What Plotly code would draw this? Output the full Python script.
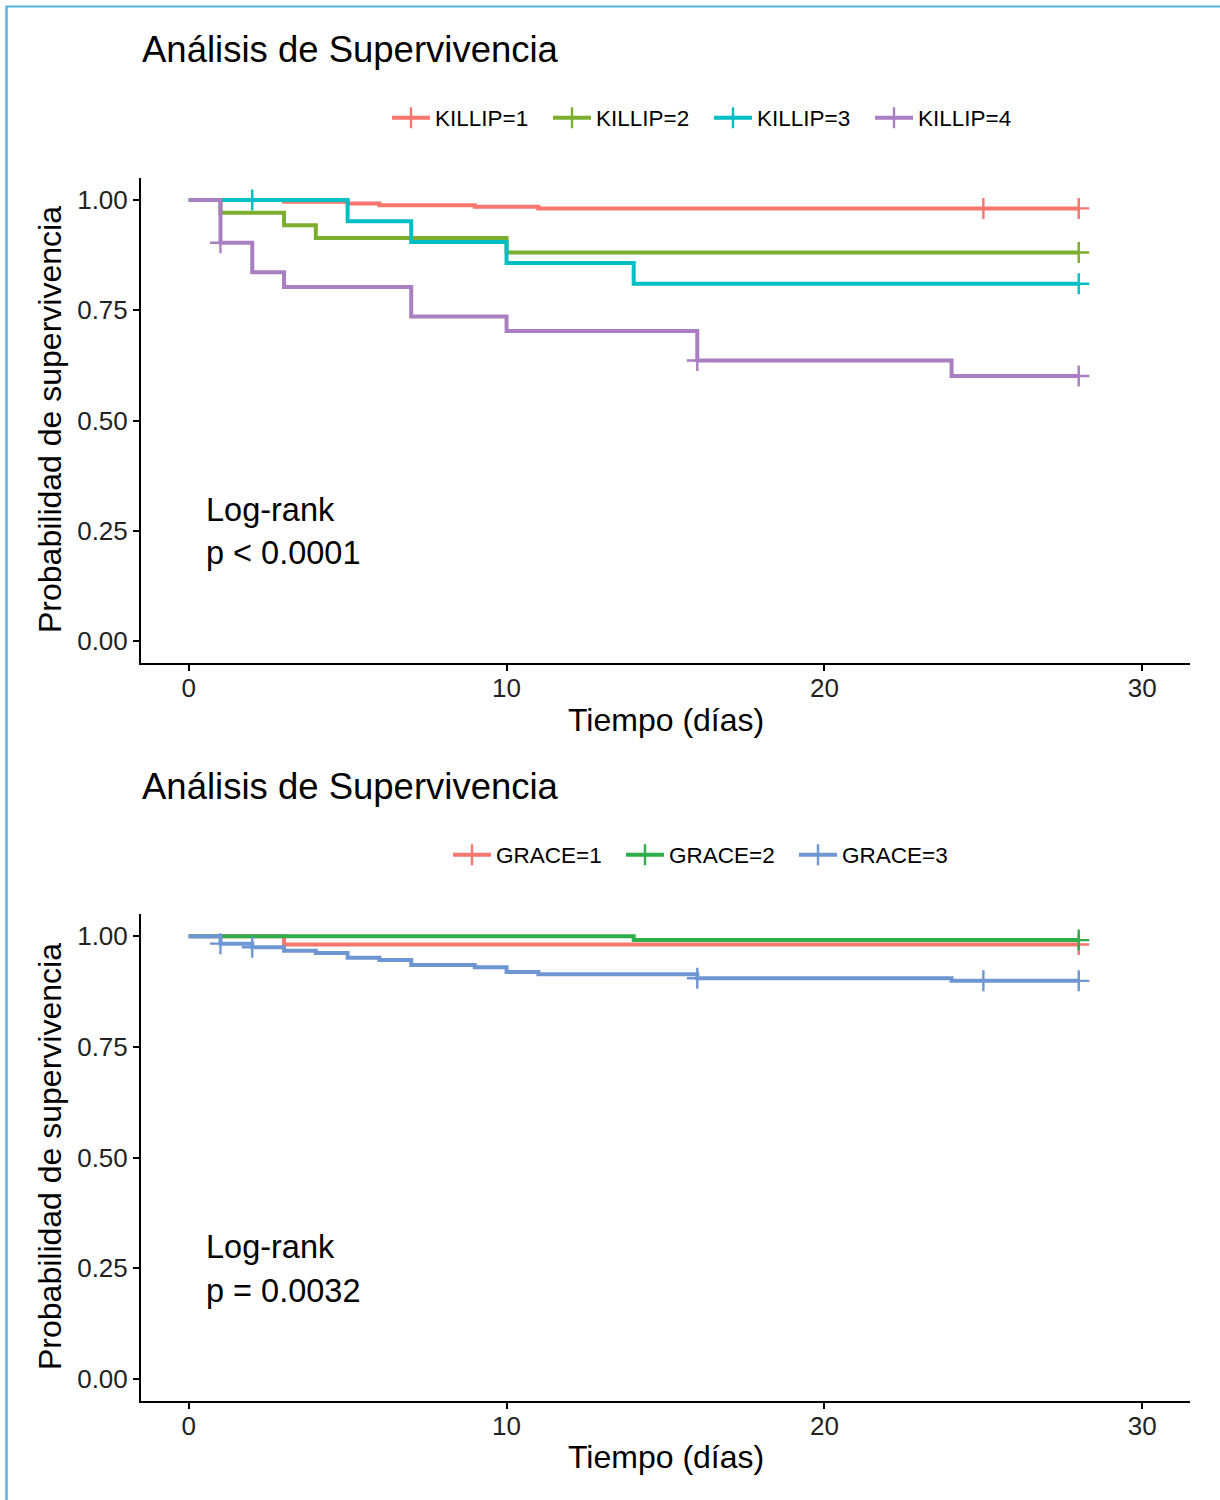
import plotly.graph_objects as go

# ---------------- data ----------------
FOLLOW_UP = 28

KILLIP_NAMES = ["KILLIP=1", "KILLIP=2", "KILLIP=3", "KILLIP=4"]
KILLIP_COLORS = ["#F8766D", "#7CAE2E", "#00BFC4", "#A97FC2"]
k1_times = [0, 3, 5, 6, 9, 11]
k1_surv = [1.0, 0.996, 0.992, 0.988, 0.985, 0.981]
k1_censor = [25, 28]
k2_times = [0, 1, 3, 4, 10]
k2_surv = [1.0, 0.971, 0.943, 0.914, 0.881]
k2_censor = [28]
k3_times = [0, 5, 7, 10, 14]
k3_surv = [1.0, 0.952, 0.905, 0.857, 0.810]
k3_censor = [2, 28]
k4_times = [0, 1, 2, 3, 7, 10, 16, 24]
k4_surv = [1.0, 0.903, 0.836, 0.803, 0.736, 0.703, 0.636, 0.601]
k4_censor = [1, 16, 28]

GRACE_NAMES = ["GRACE=1", "GRACE=2", "GRACE=3"]
GRACE_COLORS = ["#F8766D", "#2DAE4B", "#6E96D2"]
g1_times = [0, 3]
g1_surv = [1.0, 0.981]
g1_censor = [28]
g2_times = [0, 14]
g2_surv = [1.0, 0.991]
g2_censor = [28]
g3_times = [0, 1, 2, 3, 4, 5, 6, 7, 9, 10, 11, 16, 24]
g3_surv = [1.0, 0.983, 0.975, 0.967, 0.962, 0.951, 0.946, 0.935, 0.930, 0.919, 0.914, 0.905, 0.899]
g3_censor = [1, 2, 16, 25, 28]

TITLE = "Análisis de Supervivencia"
X_TITLE = "Tiempo (días)"
Y_TITLE = "Probabilidad de supervivencia"
PVAL_TOP = "p < 0.0001"
PVAL_BOTTOM = "p = 0.0032"
X_TICKS = [0, 10, 20, 30]
Y_TICKS = [0.0, 0.25, 0.5, 0.75, 1.0]

# ---------------- helpers ----------------
W, H = 1220, 1500
FONT = "Liberation Sans, Arial, sans-serif"


def px(x):
    return x / W


def py(y):
    return 1 - y / H


def surv_at(times, surv, t):
    v = surv[0]
    for ti, si in zip(times, surv):
        if ti <= t:
            v = si
    return v


fig = go.Figure()
LW = 4
MS = 15


def add_group(name, color, times, surv, censor, xa, ya, legend):
    fig.add_trace(go.Scatter(
        x=list(times) + [FOLLOW_UP], y=list(surv) + [surv[-1]],
        mode="lines", line=dict(color=color, width=LW, shape="hv"),
        xaxis=xa, yaxis=ya, showlegend=False, hoverinfo="skip"))
    fig.add_trace(go.Scatter(
        x=censor, y=[surv_at(times, surv, c) for c in censor],
        mode="markers",
        marker=dict(symbol="cross-thin", size=MS, color=color,
                    line=dict(color=color, width=2.4)),
        xaxis=xa, yaxis=ya, showlegend=False, hoverinfo="skip"))
    # legend entry
    fig.add_trace(go.Scatter(
        x=[None], y=[None], name=name, mode="lines+markers",
        line=dict(color=color, width=LW),
        marker=dict(symbol="cross-thin", size=MS, color=color,
                    line=dict(color=color, width=2.4)),
        xaxis=xa, yaxis=ya, legend=legend, showlegend=True))


killip = [(k1_times, k1_surv, k1_censor), (k2_times, k2_surv, k2_censor),
          (k3_times, k3_surv, k3_censor), (k4_times, k4_surv, k4_censor)]
for n, c, (t, s, cz) in zip(KILLIP_NAMES, KILLIP_COLORS, killip):
    add_group(n, c, t, s, cz, "x", "y", "legend")

grace = [(g1_times, g1_surv, g1_censor), (g2_times, g2_surv, g2_censor),
         (g3_times, g3_surv, g3_censor)]
for n, c, (t, s, cz) in zip(GRACE_NAMES, GRACE_COLORS, grace):
    add_group(n, c, t, s, cz, "x2", "y2", "legend2")

axis_common = dict(
    showline=True, linecolor="black", linewidth=2,
    ticks="outside", ticklen=6, tickwidth=2, tickcolor="black",
    showgrid=False, zeroline=False,
    tickfont=dict(family=FONT, size=26, color="#222222"),
)

xdom = [px(141), px(1190)]
fig.update_layout(
    width=W, height=H, autosize=False,
    margin=dict(l=0, r=0, t=0, b=0),
    paper_bgcolor="white", plot_bgcolor="white",
    font=dict(family=FONT, color="black"),
    xaxis=dict(domain=xdom, range=[-1.5, 31.5], tickvals=X_TICKS,
               anchor="y", ticklabelstandoff=-5, **axis_common),
    yaxis=dict(domain=[py(663), py(178)], range=[-0.05, 1.05],
               tickvals=Y_TICKS, ticktext=[f"{v:.2f}" for v in Y_TICKS],
               anchor="x", **axis_common),
    xaxis2=dict(domain=xdom, range=[-1.5, 31.5], tickvals=X_TICKS,
                anchor="y2", ticklabelstandoff=-5, **axis_common),
    yaxis2=dict(domain=[py(1401), py(914)], range=[-0.05, 1.05],
                tickvals=Y_TICKS, ticktext=[f"{v:.2f}" for v in Y_TICKS],
                anchor="x2", **axis_common),
    legend=dict(orientation="h", x=px(387), y=py(118), xanchor="left",
                yanchor="middle", xref="paper", yref="paper",
                font=dict(family=FONT, size=22.5, color="black"),
                entrywidth=108, entrywidthmode="pixels", itemwidth=38,
                bgcolor="rgba(0,0,0,0)", borderwidth=0),
    legend2=dict(orientation="h", x=px(448), y=py(855), xanchor="left",
                 yanchor="middle", xref="paper", yref="paper",
                 font=dict(family=FONT, size=22.5, color="black"),
                 entrywidth=120, entrywidthmode="pixels", itemwidth=38,
                 bgcolor="rgba(0,0,0,0)", borderwidth=0),
)

ann = []
for ty, xy, yc, ptxt, lr1, lr2 in [(50, 720, 420, PVAL_TOP, 510, 553),
                                   (787, 1457, 1157, PVAL_BOTTOM, 1247, 1291)]:
    ann.append(dict(text=TITLE, x=px(140), y=py(ty), xref="paper", yref="paper",
                    xanchor="left", yanchor="middle", showarrow=False,
                    font=dict(family=FONT, size=36.5, color="black")))
    ann.append(dict(text=X_TITLE, x=px(665.5), y=py(xy), xref="paper", yref="paper",
                    xanchor="center", yanchor="middle", showarrow=False,
                    font=dict(family=FONT, size=32, color="black")))
    ann.append(dict(text=Y_TITLE, x=px(50), y=py(yc), xref="paper", yref="paper",
                    xanchor="center", yanchor="middle", showarrow=False, textangle=-90,
                    font=dict(family=FONT, size=32, color="black")))
    ann.append(dict(text="Log-rank", x=px(204), y=py(lr1), xref="paper", yref="paper",
                    xanchor="left", yanchor="middle", showarrow=False,
                    font=dict(family=FONT, size=32.5, color="black")))
    ann.append(dict(text=ptxt, x=px(204), y=py(lr2), xref="paper", yref="paper",
                    xanchor="left", yanchor="middle", showarrow=False,
                    font=dict(family=FONT, size=32.5, color="black")))
fig.update_layout(annotations=ann)

# light-blue frame (top and left edges)
fig.add_shape(type="line", xref="paper", yref="paper", x0=px(6), x1=1, y0=py(6.5), y1=py(6.5),
              line=dict(color="#55B4E0", width=2))
fig.add_shape(type="line", xref="paper", yref="paper", x0=px(6.5), x1=px(6.5), y0=py(6), y1=0,
              line=dict(color="#55B4E0", width=2.5))

fig.write_html("out.html", config={"displayModeBar": False},
               post_script="document.body.style.margin='0';")
